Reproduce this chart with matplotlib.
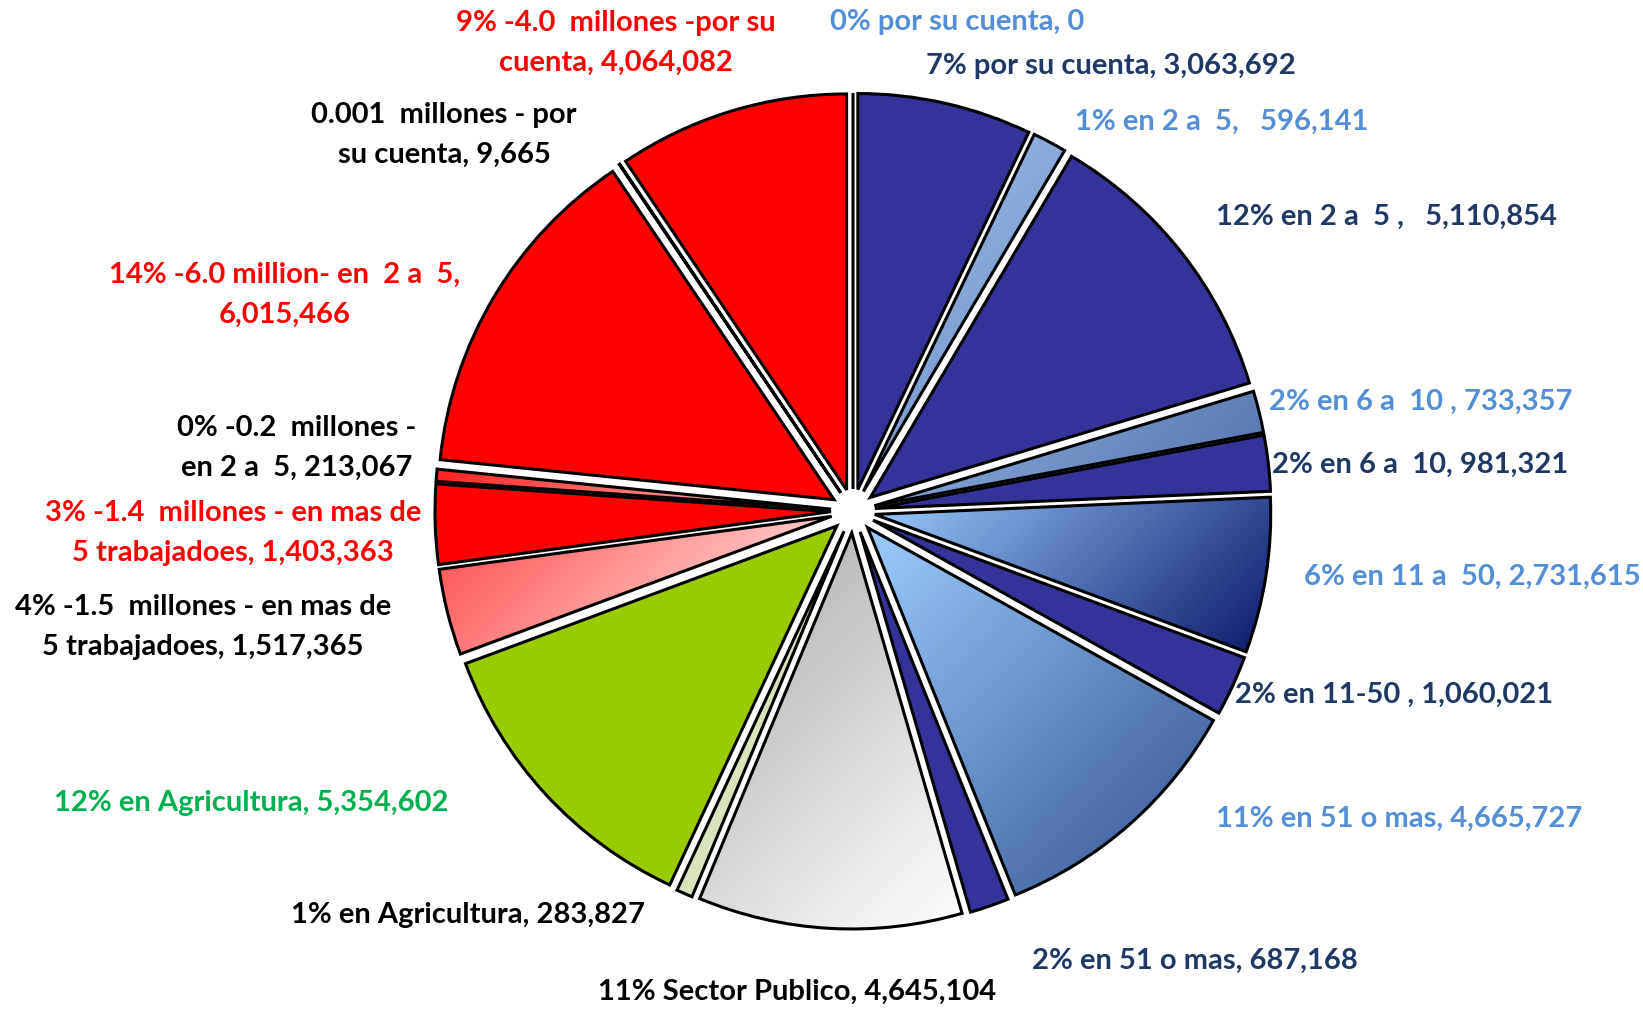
import numpy as np
import matplotlib.pyplot as plt
import matplotlib.colors as mcolors

plt.rcParams['font.family'] = ['Lato', 'DejaVu Sans']

# slices, clockwise from 12 o'clock
labels = ['0% por su cuenta, 0',
          '7% por su cuenta, 3,063,692',
          '1% en 2 a  5,   596,141',
          '12% en 2 a  5 ,   5,110,854',
          '2% en 6 a  10 , 733,357',
          '2% en 6 a  10, 981,321',
          '6% en 11 a  50, 2,731,615',
          '2% en 11-50 , 1,060,021',
          '11% en 51 o mas, 4,665,727',
          '2% en 51 o mas, 687,168',
          '11% Sector Publico, 4,645,104',
          '1% en Agricultura, 283,827',
          '12% en Agricultura, 5,354,602',
          '4% -1.5  millones - en mas de\n5 trabajadoes, 1,517,365',
          '3% -1.4  millones - en mas de\n5 trabajadoes, 1,403,363',
          '0% -0.2  millones -\nen 2 a  5, 213,067',
          '14% -6.0 million- en  2 a  5,\n6,015,466',
          '0.001  millones - por\nsu cuenta, 9,665',
          '9% -4.0  millones -por su\ncuenta, 4,064,082']
values = [0, 3063692, 596141, 5110854, 733357, 981321, 2731615, 1060021,
          4665727, 687168, 4645104, 283827, 5354602, 1517365, 1403363,
          213067, 6015466, 9665, 4064082]

# styles
navy = '#333399'
red = '#FF0000'
slice_colors = [navy, navy, '#8EB4E3', navy, '#8FB4E3', navy, '#99CCFF', navy,
                '#99CCFF', navy, '#B2B2B2', '#D7E4BD', '#99CC00', '#FF5050',
                red, '#FF3333', red, red, red]
# gradient (from top-left to bottom-right) for some slices
gradients = {2: ('#9DBDE8', '#6A8BC4'),
             4: ('#8FB4E3', '#5570AA'),
             6: ('#9ACCFF', '#0C176A'),
             8: ('#9ACCFF', '#34508F'),
             10: ('#A8A8A8', '#FFFFFF'),
             13: ('#FF4A4A', '#FFF4F4'),
             15: ('#FF2020', '#FFD0D0')}

dark_txt = '#1F3864'
light_txt = '#558ED5'
label_colors = [light_txt, dark_txt, light_txt, dark_txt, light_txt, dark_txt,
                light_txt, dark_txt, light_txt, dark_txt, 'black', 'black',
                '#00B050', 'black', red, 'black', red, 'black', red]
# label centres in pixel coordinates (from top)
label_xy = [(957, 22), (1111, 66), (1222, 122), (1386, 217), (1421, 402),
            (1420, 465), (1472, 577), (1394, 695), (1399, 819), (1195, 961),
            (797, 992), (468, 915), (251, 803), (203, 627), (233, 533),
            (297, 448), (285, 295), (444, 135), (616, 43)]

W, H = 1643, 1009
fig = plt.figure(figsize=(W / 100, H / 100), dpi=100)
ax = fig.add_axes([0, 0, 1, 1])

cx, cy = 853, H - 511
R = 396
expl = 22

wedges, _ = ax.pie(values, colors=slice_colors, startangle=90, counterclock=False,
                   center=(cx, cy), radius=R, explode=[expl] * len(values),
                   wedgeprops=dict(edgecolor='black', linewidth=2.2))

for i, (c1, c2) in gradients.items():
    w = wedges[i]
    w.set_facecolor('none')
    w.set_zorder(3)
    bb = w.get_path().get_extents()
    x0, x1, y0, y1 = bb.x0, bb.x1, bb.y0, bb.y1
    n = 200
    gx, gy = np.meshgrid(np.linspace(0, 1, n), np.linspace(0, 1, n))
    t = (gx * (x1 - x0) + gy * (y1 - y0)) / ((x1 - x0) + (y1 - y0))
    cmap = mcolors.LinearSegmentedColormap.from_list('g%d' % i, [c1, c2])
    im = ax.imshow(t, cmap=cmap, extent=(x0, x1, y0, y1), origin='upper',
                   aspect='auto', zorder=2, interpolation='bilinear')
    im.set_clip_path(w)

for lab, (x, y), col in zip(labels, label_xy, label_colors):
    ax.text(x, H - y, lab, ha='center', va='center', color=col,
            fontsize=21, fontweight='bold', linespacing=1.65)

ax.set_xlim(0, W)
ax.set_ylim(0, H)
ax.set_aspect('equal')
ax.axis('off')

plt.savefig('out.png', dpi=100)
